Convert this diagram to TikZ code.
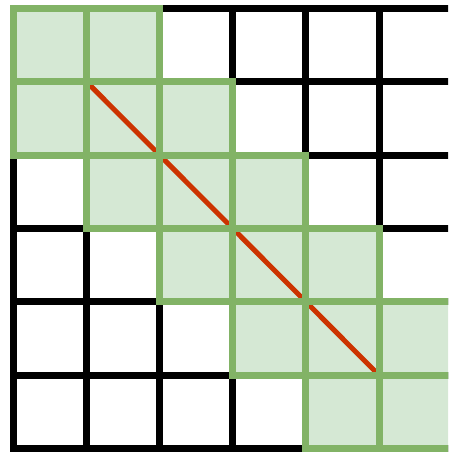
\documentclass[tikz,border=0pt]{standalone}
\usepackage{tikz}
\definecolor{gfill}{HTML}{D5E8D4}
\definecolor{gline}{HTML}{82B366}
\definecolor{rline}{HTML}{CC3300}
\begin{document}
\begin{tikzpicture}[x=1pt,y=-1pt,
  gridline/.style={line width=7pt,black},
  cellfill/.style={fill=gfill},
  cellstroke/.style={draw=gline,line width=7pt},
  diag/.style={draw=rline,line width=5pt}]
\useasboundingbox (0,0) rectangle (448,452);
\begin{scope}
\clip (0,0) rectangle (448,452);
\def\ox{13.5}\def\oy{8.5}\def\cw{73.1}\def\ch{73.33}
% black grid
\foreach \i in {0,...,6}{
  \draw[gridline,line cap=rect] (\ox+\i*\cw,\oy) -- (\ox+\i*\cw,\oy+6*\ch);
  \draw[gridline,line cap=rect] (\ox,\oy+\i*\ch) -- (\ox+6*\cw,\oy+\i*\ch);
}
% green cells
\def\cells{0/0,1/0,0/1,1/1,2/1,1/2,2/2,3/2,2/3,3/3,4/3,3/4,4/4,5/4,4/5,5/5}
\foreach \c/\r in \cells{
  \fill[cellfill] (\ox+\c*\cw,\oy+\r*\ch) rectangle ++(\cw,\ch);
}
\coordinate (p1) at (\ox+\cw,\oy+\ch);
\coordinate (p2) at (\ox+5*\cw,\oy+5*\ch);
\draw[diag] (p1) -- (p2);
\foreach \c/\r in \cells{
  \draw[cellstroke,line join=miter] (\ox+\c*\cw,\oy+\r*\ch) rectangle ++(\cw,\ch);
}
\end{scope}
\end{tikzpicture}
\end{document}
